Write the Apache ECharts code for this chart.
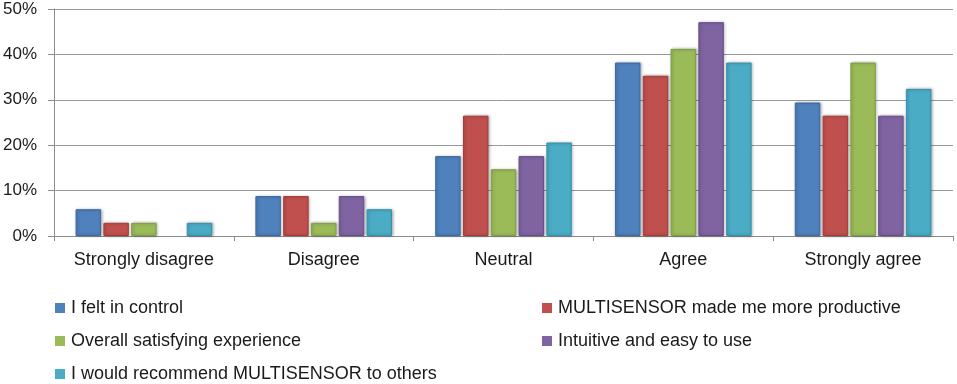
<!DOCTYPE html>
<html>
<head>
<meta charset="utf-8">
<script src="https://cdn.jsdelivr.net/npm/echarts@6/dist/echarts.min.js"></script>
<style>
  html, body { margin: 0; padding: 0; background: #fff; }
  #chart { width: 957px; height: 384px; }
</style>
</head>
<body>
<div id="chart"></div>
<script>
var categories = ["Strongly disagree", "Disagree", "Neutral", "Agree", "Strongly agree"];
var seriesNames = [
  "I felt in control",
  "MULTISENSOR made me more productive",
  "Overall satisfying experience",
  "Intuitive and easy to use",
  "I would recommend MULTISENSOR to others"
];
// percentages per category
var feltInControl = [5.9, 8.8, 17.6, 38.2, 29.4];
var moreProductive = [2.9, 8.8, 26.5, 35.3, 26.5];
var satisfying = [2.9, 2.9, 14.7, 41.2, 38.2];
var intuitive = [0, 8.8, 17.6, 47.1, 26.5];
var recommend = [2.9, 5.9, 20.6, 38.2, 32.4];
var yTicks = [0, 10, 20, 30, 40, 50];

var values = [feltInControl, moreProductive, satisfying, intuitive, recommend];
var colors = ["#4F81BD", "#C0504D", "#9BBB59", "#8064A2", "#4BACC6"];
var edges = ["#3A6BA5", "#A63D3A", "#81A043", "#67508A", "#3693AD"];

var font = "Liberation Sans";

var series = values.map(function (data, i) {
  return {
    name: seriesNames[i],
    type: "bar",
    // zero bars: no outline, like the original
    data: data.map(function (v) {
      return v === 0 ? { value: v, itemStyle: { borderWidth: 0, shadowBlur: 0, opacity: 0 } } : v;
    }),
    barGap: "9%",
    barCategoryGap: "24%",
    itemStyle: {
      color: colors[i],
      borderColor: edges[i],
      borderWidth: 1,
      shadowColor: "rgba(0,0,0,0.3)",
      shadowBlur: 3,
      shadowOffsetX: 1,
      shadowOffsetY: 0
    }
  };
});

function legendFor(names, left) {
  return {
    orient: "vertical",
    left: left,
    top: 298,
    icon: "rect",
    itemWidth: 10,
    itemHeight: 10,
    itemGap: 13,
    padding: 0,
    data: names,
    textStyle: { fontFamily: font, fontSize: 18, color: "#1a1a1a", lineHeight: 20, padding: [0, 0, 0, 1] },
    itemStyle: { borderWidth: 0, shadowBlur: 0, opacity: 1 }
  };
}

var chart = echarts.init(document.getElementById("chart"));
chart.setOption({
  animation: false,
  grid: { left: 54, right: 4, top: 9, bottom: 148, outerBoundsMode: "none", containLabel: false },
  legend: [
    legendFor([seriesNames[0], seriesNames[2], seriesNames[4]], 55),
    legendFor([seriesNames[1], seriesNames[3]], 542)
  ],
  xAxis: {
    type: "category",
    data: categories,
    axisLine: { lineStyle: { color: "#8c8c8c", width: 1 } },
    axisTick: { show: true, length: 5, lineStyle: { color: "#8c8c8c" } },
    axisLabel: { interval: 0, fontFamily: font, fontSize: 18, color: "#1a1a1a", margin: 15 }
  },
  yAxis: {
    type: "value",
    min: yTicks[0],
    max: yTicks[yTicks.length - 1],
    interval: 10,
    axisLine: { show: true, lineStyle: { color: "#8c8c8c", width: 1 } },
    axisTick: { show: true, length: 6, lineStyle: { color: "#8c8c8c" } },
    splitLine: { show: true, lineStyle: { color: "#9a9a9a", width: 1 } },
    axisLabel: {
      fontFamily: font, fontSize: 17, color: "#1a1a1a", margin: 17,
      formatter: function (v) { return v + "%"; }
    }
  },
  series: series
});
</script>
</body>
</html>
